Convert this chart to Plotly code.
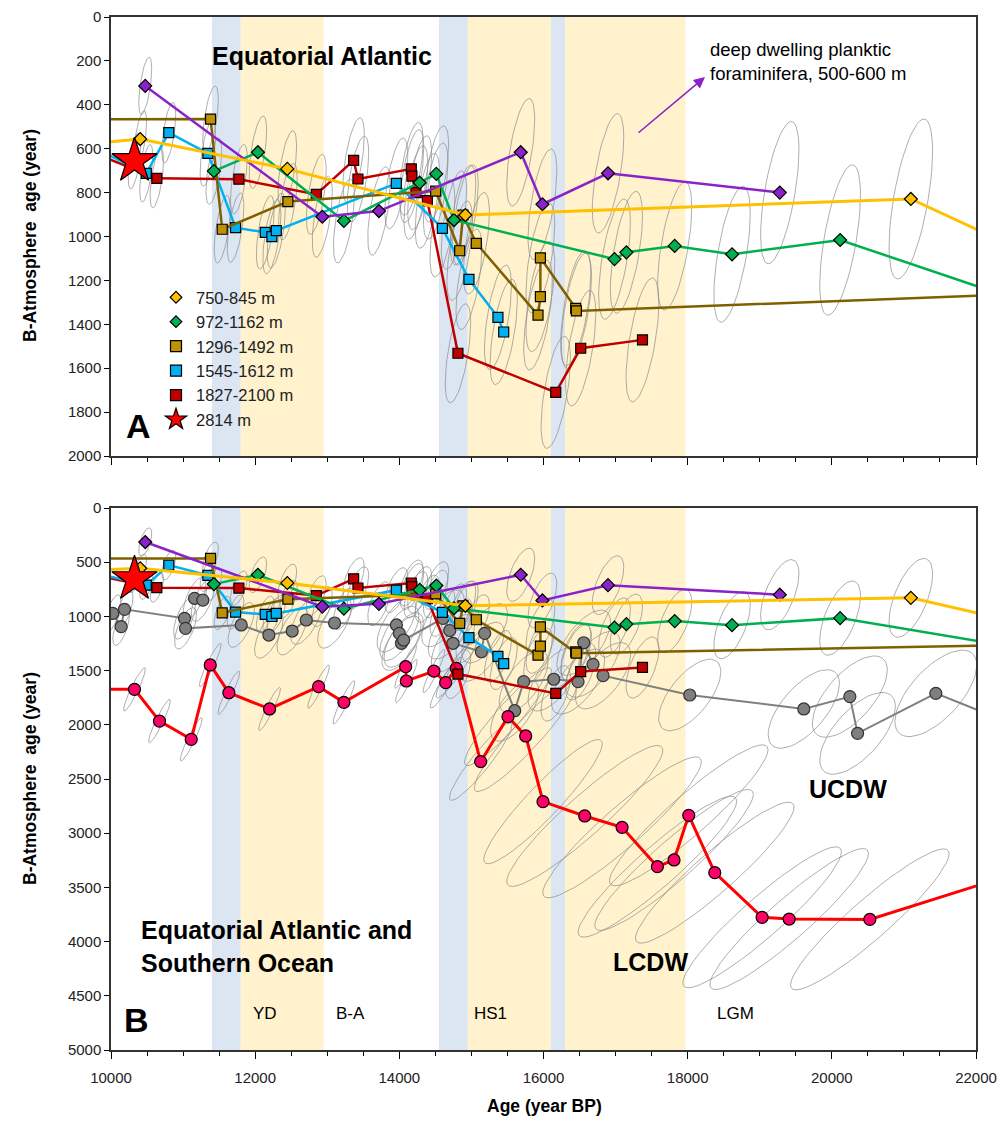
import numpy as np
import plotly.graph_objects as go

# ---------------- data ----------------
purple_age = [10475, 12931, 13717, 15684, 15985, 16895, 19278]
purple_val = [314, 910, 884, 616, 853, 712, 800]

yellow_age = [9500, 10405, 12446, 14916, 21096, 22500]
yellow_val = [583, 556, 692, 902, 829, 1043]

green_age = [11427, 12038, 13231, 14282, 14513, 14758, 16985, 17150, 17820, 18616, 20115, 22500]
green_val = [702, 616, 929, 755, 715, 925, 1103, 1072, 1043, 1081, 1016, 1280]

gold_age = [9500, 11381, 11543, 12454, 14504, 14837, 14883, 15068, 15924, 15957, 15957, 16447, 16456, 22500]
gold_val = [466, 465, 967, 841, 793, 1065, 902, 1031, 1358, 1274, 1097, 1327, 1339, 1264]

blue_age = [9500, 10489, 10802, 11344, 11728, 12140, 12232, 12293, 13958, 14597, 14966, 15368, 15448]
blue_val = [554, 712, 527, 621, 960, 981, 1001, 973, 758, 963, 1195, 1368, 1435]

red_age = [9500, 10636, 11774, 12848, 13366, 13426, 14166, 14175, 14230, 14389, 14813, 16170, 16516, 17373]
red_val = [585, 735, 739, 808, 653, 738, 692, 725, 800, 837, 1532, 1710, 1509, 1471]

star_age = [10326]
star_val = [656]

gray_age = [10025, 10141, 10187, 11020, 11034, 11807, 12190, 12514, 12709, 13102, 13960, 14000, 14030,
            14060, 14605, 14700, 14744, 15138, 15184, 15600, 15725, 16142, 16479, 16558, 16687, 16826,
            18029, 19611, 20250, 20357, 21443, 22500]
gray_val = [972, 1095, 935, 1018, 1110, 1079, 1172, 1135, 1033, 1061, 1079, 1156, 1248,
            1218, 1018, 1130, 1248, 1326, 1156, 1870, 1602, 1580, 1602, 1243, 1442, 1547,
            1725, 1854, 1740, 2079, 1710, 1989]
gray_extra_age = [11159, 11274]
gray_extra_val = [833, 850]

pink_age = [9500, 10326, 10673, 11113, 11377, 11635, 12200, 12880, 13231, 14088, 14097, 14480, 14643,
            14791, 15128, 15507, 15753, 15993, 16572, 17090, 17580, 17811, 18015, 18376, 19033, 19408,
            20527, 22500]
pink_val = [1673, 1673, 1966, 2134, 1448, 1704, 1854, 1648, 1793, 1464, 1596, 1505, 1611,
            1479, 2340, 1925, 2103, 2709, 2841, 2946, 3309, 3247, 2835, 3364, 3776, 3792,
            3795, 3382]

blue_bands = [(11400, 11800), (14550, 14950), (16100, 16300)]
yellow_bands = [(11800, 12950), (14950, 16100), (16300, 17970)]

legend_names = ["750-845 m", "972-1162 m", "1296-1492 m", "1545-1612 m", "1827-2100 m", "2814 m"]

# ---------------- layout geometry ----------------
W, H = 1002, 1122
ML, MR, MT, MB = 111, 26, 17, 72
PW = W - ML - MR
PH = H - MT - MB


def px(xp):
    return (xp - ML) / PW


def py(yp):
    return (H - MB - yp) / PH


domA = [py(456), 1.0]
domB = [0.0, py(508)]

fig = go.Figure()

ELL_COLOR = "rgba(140,140,140,0.7)"
T = np.linspace(0, 2 * np.pi, 49)


def ellipses(ages, vals, sx0, sxk, sy0, syk, rho, start=10000, sxmax=1e9, symax=1e9):
    X, Y = [], []
    for a, v in zip(ages, vals):
        if a < 10000 or a > 22000:
            continue
        d = max(0, a - start)
        sx = min(sx0 + sxk * d, sxmax)
        sy = min(sy0 + syk * d, symax)
        X += list(a + sx * np.cos(T)) + [None]
        Y += list(v - rho * sy * np.cos(T) + np.sqrt(1 - rho ** 2) * sy * np.sin(T)) + [None]
    return X, Y


def add_ell(X, Y, xa, ya):
    fig.add_trace(go.Scatter(x=X, y=Y, mode="lines", line=dict(color=ELL_COLOR, width=1),
                             hoverinfo="skip", showlegend=False, xaxis=xa, yaxis=ya))


a_series = [
    (red_age, red_val, "#C00000", "square", "#C00000", 10),
    (blue_age, blue_val, "#00B0F0", "square", "#00B0F0", 10),
    (gold_age, gold_val, "#7F6000", "square", "#BF9000", 10),
    (green_age, green_val, "#00B050", "diamond", "#00B050", 10),
    (purple_age, purple_val, "#8A22C8", "diamond", "#8A22C8", 10),
    (yellow_age, yellow_val, "#FFC000", "diamond", "#FFC000", 10),
]

all_a_age = sum([s[0] for s in a_series], []) + star_age
all_a_val = sum([s[1] for s in a_series], []) + star_val

# ellipses panel A
X, Y = ellipses(all_a_age, all_a_val, 80, 0.02, 120, 0.022, 0.6)
add_ell(X, Y, "x", "y")
# ellipses panel B
add_ell(X, Y, "x2", "y2")
Xg, Yg = ellipses(gray_age + gray_extra_age, gray_val + gray_extra_val, 110, 0.04, 170, 0.02, 0.65)
add_ell(Xg, Yg, "x2", "y2")
Xp, Yp = ellipses(pink_age, pink_val, 150, 0.45, 200, 0.25, 0.93, start=14500, sxmax=1100, symax=650)
add_ell(Xp, Yp, "x2", "y2")


def add_series(age, val, lc, sym, fc, size, xa, ya, lw=2.5, mlc="black"):
    fig.add_trace(go.Scatter(
        x=age, y=val, mode="lines+markers",
        line=dict(color=lc, width=lw),
        marker=dict(symbol=sym, color=fc, size=size, line=dict(color=mlc, width=1.2)),
        showlegend=False, xaxis=xa, yaxis=ya))


# panel B extra series
add_series(gray_age, gray_val, "#7F7F7F", "circle", "#7F7F7F", 12, "x2", "y2", lw=2, mlc="#333333")
fig.add_trace(go.Scatter(x=gray_extra_age, y=gray_extra_val, mode="markers",
                         marker=dict(symbol="circle", color="#7F7F7F", size=12,
                                     line=dict(color="#333333", width=1.2)),
                         showlegend=False, xaxis="x2", yaxis="y2"))
add_series(pink_age, pink_val, "#FF0000", "circle", "#FF0066", 12, "x2", "y2", lw=3)

for xa, ya in (("x", "y"), ("x2", "y2")):
    for age, val, lc, sym, fc, size in a_series:
        add_series(age, val, lc, sym, fc, size, xa, ya, lw=3 if lc == "#FFC000" else 2.5)
    fig.add_trace(go.Scatter(x=star_age, y=star_val, mode="markers",
                             marker=dict(symbol="star", color="#FF0000", size=34,
                                         line=dict(color="black", width=1.2)),
                             showlegend=False, xaxis=xa, yaxis=ya))

# legend-only traces
leg_styles = [("diamond", "#FFC000", 9), ("diamond", "#00B050", 9), ("square", "#BF9000", 11),
              ("square", "#00B0F0", 11), ("square", "#C00000", 11), ("star", "#FF0000", 16)]
for name, (sym, col, sz) in zip(legend_names, leg_styles):
    fig.add_trace(go.Scatter(x=[None], y=[None], mode="markers", name=name,
                             marker=dict(symbol=sym, color=col, size=sz, line=dict(color="black", width=1.2)),
                             xaxis="x", yaxis="y"))

# bands
shapes = []
for yref in ("y domain", "y2 domain"):
    xref = "x" if yref == "y domain" else "x2"
    for (a, b) in blue_bands:
        shapes.append(dict(type="rect", xref=xref, yref=yref, x0=a, x1=b, y0=0, y1=1,
                           fillcolor="#DCE6F2", line=dict(width=0), layer="below"))
    for (a, b) in yellow_bands:
        shapes.append(dict(type="rect", xref=xref, yref=yref, x0=a, x1=b, y0=0, y1=1,
                           fillcolor="#FFF2CC", line=dict(width=0), layer="below"))

BOLD = "Liberation Sans"
TICKFONT = dict(family="Liberation Sans Narrow, Arial Narrow, Liberation Sans", size=15, color="#222")


def ann(text, xp, yp, size, bold=False, xanchor="center", align="center", color="black", angle=0):
    return dict(text=("<b>%s</b>" % text) if bold else text, x=px(xp), y=py(yp), xref="paper", yref="paper",
                showarrow=False, xanchor=xanchor, yanchor="middle", align=align, textangle=angle,
                font=dict(family=BOLD, size=size, color=color))


annotations = [
    ann("Equatorial Atlantic", 322, 56, 25, bold=True),
    ann("deep dwelling planktic<br>foraminifera, 500-600 m", 708, 62, 18.5, xanchor="left", align="left"),
    ann("A", 138, 426, 34, bold=True),
    ann("B", 136, 1020, 34, bold=True),
    ann("Equatorial Atlantic and<br>Southern Ocean", 139, 946, 25, bold=True, xanchor="left", align="left"),
    ann("YD", 265, 1013, 17),
    ann("B-A", 350, 1013, 17),
    ann("HS1", 490, 1013, 17),
    ann("LGM", 735, 1013, 17),
    ann("LCDW", 650, 962, 25, bold=True),
    ann("UCDW", 848, 789, 25, bold=True),
    ann("B-Atmosphere  age (year)", 30, 236, 17.5, bold=True, angle=-90),
    ann("B-Atmosphere  age (year)", 30, 779, 17.5, bold=True, angle=-90),
    ann("Age (year BP)", 544, 1106, 17.5, bold=True),
    dict(text="", x=px(705), y=py(77), xref="paper", yref="paper", showarrow=True,
         ax=-68, ay=57, arrowhead=2, arrowsize=1.4, arrowwidth=1.6, arrowcolor="#8A22C8"),
]

xcommon = dict(range=[10000, 22000], dtick=2000, tick0=10000, ticks="outside", ticklen=7,
               tickcolor="black", minor=dict(dtick=500, ticks="outside", ticklen=4, tickcolor="black"),
               showgrid=False, zeroline=False, showline=True, linecolor="#333", linewidth=1.5,
               mirror=True, tickfont=TICKFONT, tickformat="d", automargin=False)
ycommon = dict(ticks="outside", ticklen=5, tickcolor="black", showgrid=False, zeroline=False,
               showline=True, linecolor="#333", linewidth=1.5, mirror=True, tickfont=TICKFONT,
               tickformat="d", automargin=False)

fig.update_layout(
    width=W, height=H, margin=dict(l=ML, r=MR, t=MT, b=MB, autoexpand=False),
    plot_bgcolor="white", paper_bgcolor="white",
    xaxis=dict(domain=[0, 1], anchor="y", showticklabels=False, **xcommon),
    yaxis=dict(domain=domA, anchor="x", range=[2000, 0], dtick=200, **ycommon),
    xaxis2=dict(domain=[0, 1], anchor="y2", showticklabels=True, ticklabelstandoff=6, **xcommon),
    yaxis2=dict(domain=domB, anchor="x2", range=[5000, 0], dtick=500, **ycommon),
    shapes=shapes, annotations=annotations,
    showlegend=True,
    legend=dict(x=px(156), y=py(280), xanchor="left", yanchor="top", bgcolor="rgba(0,0,0,0)",
                font=dict(family="Liberation Sans", size=16.5, color="#222"), itemwidth=30,
                tracegroupgap=0),
)

fig.write_html("out.html")
